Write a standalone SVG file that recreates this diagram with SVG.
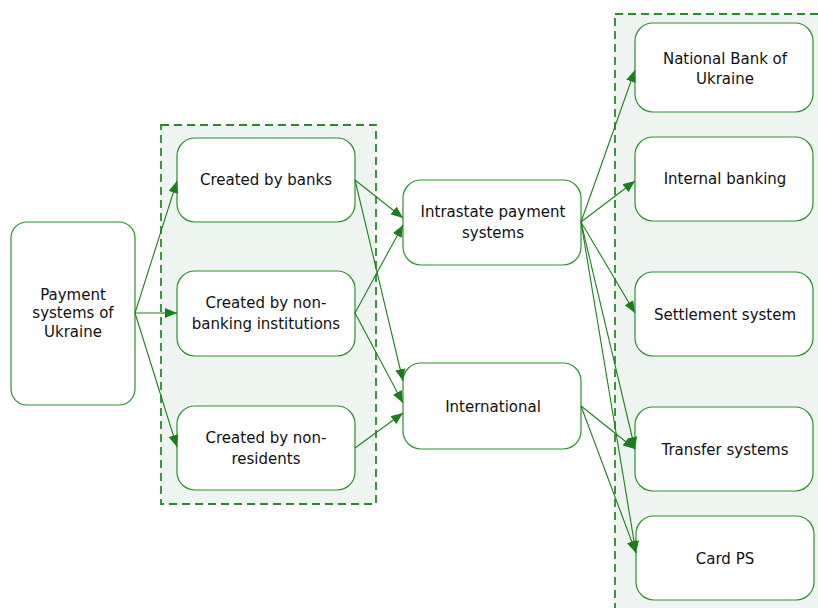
<svg xmlns="http://www.w3.org/2000/svg" width="818" height="608" viewBox="0 0 818 608">
<defs>
<marker id="ah" viewBox="0 0 12 10" refX="12" refY="5" markerWidth="12" markerHeight="10" markerUnits="userSpaceOnUse" orient="auto">
<path d="M0,0 L12,5 L0,10 z" fill="#1b7d1b"/>
</marker>
<style>
.grp{fill:#eef5f0;stroke:#2a8a2a;stroke-width:1.8;stroke-dasharray:8,5}
.box{fill:#ffffff;stroke:#2f8f2f;stroke-width:1.2}
.t{font-family:"DejaVu Sans",Verdana,sans-serif;font-size:15px;fill:#111;text-anchor:middle}
.e{stroke:#1f7f1f;stroke-width:1.1;fill:none;marker-end:url(#ah)}
</style>
</defs>
<rect width="818" height="608" fill="#ffffff"/>
<g id="group1"><rect class="grp" x="161" y="125" width="215" height="379"/></g>
<g id="group2"><rect class="grp" x="615" y="14" width="215" height="610"/></g>

<g id="payment"><rect class="box" x="11" y="222" width="124" height="183" rx="16"/>
<text class="t" x="73" y="300">Payment</text><text class="t" x="73" y="318">systems of</text><text class="t" x="73" y="337">Ukraine</text></g>

<g id="banks"><rect class="box" x="177" y="138" width="178" height="84" rx="18"/>
<text class="t" x="266" y="185">Created by banks</text></g>
<g id="nonbanking"><rect class="box" x="177" y="271" width="178" height="85" rx="18"/>
<text class="t" x="266" y="308">Created by non-</text><text class="t" x="266" y="329">banking institutions</text></g>
<g id="nonresidents"><rect class="box" x="177" y="406" width="178" height="84" rx="18"/>
<text class="t" x="266" y="443">Created by non-</text><text class="t" x="266" y="464">residents</text></g>

<g id="intrastate"><rect class="box" x="403" y="180" width="178" height="85" rx="18"/>
<text class="t" x="493" y="217">Intrastate payment</text><text class="t" x="493" y="238">systems</text></g>
<g id="international"><rect class="box" x="403" y="363" width="178" height="86" rx="18"/>
<text class="t" x="493" y="412">International</text></g>

<g id="nbu"><rect class="box" x="635" y="23" width="178" height="89" rx="18"/>
<text class="t" x="725" y="64">National Bank of</text><text class="t" x="725" y="84">Ukraine</text></g>
<g id="internal"><rect class="box" x="635" y="137" width="178" height="84" rx="18"/>
<text class="t" x="725" y="184">Internal banking</text></g>
<g id="settlement"><rect class="box" x="635" y="272" width="178" height="84" rx="18"/>
<text class="t" x="725" y="320">Settlement system</text></g>
<g id="transfer"><rect class="box" x="635" y="407" width="178" height="84" rx="18"/>
<text class="t" x="725" y="455">Transfer systems</text></g>
<g id="card"><rect class="box" x="636" y="516" width="178" height="84" rx="18"/>
<text class="t" x="725" y="564">Card PS</text></g>

<g id="connectors">
<line class="e" x1="135" y1="313" x2="177" y2="181"/>
<line class="e" x1="135" y1="313" x2="177" y2="313"/>
<line class="e" x1="135" y1="313" x2="177" y2="447"/>
<line class="e" x1="355" y1="180" x2="403" y2="218"/>
<line class="e" x1="355" y1="180" x2="403" y2="381"/>
<line class="e" x1="355" y1="313" x2="403" y2="225"/>
<line class="e" x1="355" y1="313" x2="403" y2="403"/>
<line class="e" x1="355" y1="448" x2="403" y2="413"/>
<line class="e" x1="581" y1="222" x2="635" y2="70"/>
<line class="e" x1="581" y1="222" x2="635" y2="181"/>
<line class="e" x1="581" y1="222" x2="635" y2="313"/>
<line class="e" x1="581" y1="222" x2="635" y2="449"/>
<line class="e" x1="581" y1="222" x2="636" y2="553"/>
<line class="e" x1="581" y1="406" x2="635" y2="449"/>
<line class="e" x1="581" y1="406" x2="636" y2="553"/>
</g>
</svg>
